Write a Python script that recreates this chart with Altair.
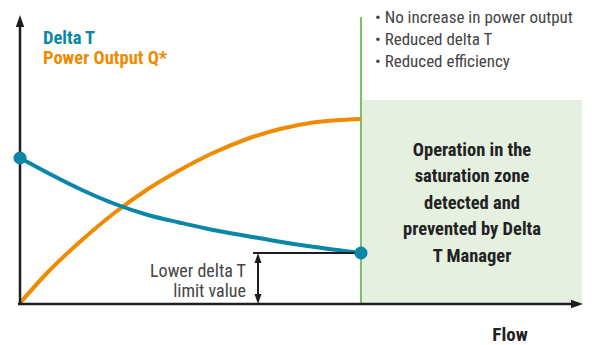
import altair as alt
import pandas as pd

# Curve data (flow units, value units)
flow_pts = [0, 28, 62, 95, 128, 160, 193, 227, 260, 293, 341]
delta_t = [146, 131, 114, 100, 89, 81.3, 74, 68, 62.3, 57.3, 51]
power_q = [1, 32, 64, 91.5, 115, 134, 151, 165, 175, 181.5, 185]

SAT_FLOW = 341       # saturation flow (green line)
ZONE_END = 562
ZONE_TOP = 204
Y_MAX = 289
X_MAX = 563
LOWER_LIMIT = 51
LIMIT_X = 238
LIMIT_LINE_START = 233

legend_labels = ["Delta T", "Power Output Q*"]
bullets = ["•  No increase in power output", "•  Reduced delta T", "•  Reduced efficiency"]
box_lines = ["Operation in the", "saturation zone", "detected and", "prevented by Delta", "T Manager"]
limit_lines = ["Lower delta T", "limit value"]

TEAL = "#0a86a6"
ORANGE = "#f08a00"
GREEN = "#7cc26a"
FILL = "#e5f0e0"
INK = "#1e1e1e"
FONT = "Liberation Sans Narrow, Roboto Condensed, Roboto"

xs = alt.Scale(domain=[-12, 572], nice=False, zero=False)
ys = alt.Scale(domain=[-41, 296], nice=False, zero=False)

def X(f="x"):
    return alt.X(f, type="quantitative", scale=xs, axis=None)

def Y(f="y"):
    return alt.Y(f, type="quantitative", scale=ys, axis=None)

curves = pd.DataFrame({"x": flow_pts, "dt": delta_t, "q": power_q})

zone = alt.Chart(pd.DataFrame({"x": [SAT_FLOW], "x2": [ZONE_END], "y": [0], "y2": [ZONE_TOP]})).mark_rect(
    color=FILL).encode(x=X(), x2="x2", y=Y(), y2="y2")

green = alt.Chart(pd.DataFrame({"x": [SAT_FLOW], "y": [0], "y2": [Y_MAX - 2]})).mark_rule(
    color=GREEN, strokeWidth=2).encode(x=X(), y=Y(), y2="y2")

yaxis = alt.Chart(pd.DataFrame({"x": [0], "y": [-1], "y2": [Y_MAX - 8]})).mark_rule(
    color=INK, strokeWidth=2.5).encode(x=X(), y=Y(), y2="y2")
xaxis = alt.Chart(pd.DataFrame({"x": [-2], "x2": [X_MAX - 8], "y": [0]})).mark_rule(
    color=INK, strokeWidth=2.5).encode(x=X(), x2="x2", y=Y())

up = "M0,-1L0.7,1L-0.7,1Z"
down = "M0,1L0.7,-1L-0.7,-1Z"
right = "M1,0L-1,0.7L-1,-0.7Z"

yhead = alt.Chart(pd.DataFrame({"x": [0], "y": [Y_MAX - 6]})).mark_point(
    shape=up, size=144, filled=True, color=INK, opacity=1).encode(x=X(), y=Y())
xhead = alt.Chart(pd.DataFrame({"x": [X_MAX - 6], "y": [0]})).mark_point(
    shape=right, size=144, filled=True, color=INK, opacity=1).encode(x=X(), y=Y())

limit_h = alt.Chart(pd.DataFrame({"x": [LIMIT_LINE_START], "x2": [SAT_FLOW], "y": [LOWER_LIMIT]})).mark_rule(
    color=INK, strokeWidth=2).encode(x=X(), x2="x2", y=Y())
limit_v = alt.Chart(pd.DataFrame({"x": [LIMIT_X], "y": [4], "y2": [LOWER_LIMIT - 4]})).mark_rule(
    color=INK, strokeWidth=2).encode(x=X(), y=Y(), y2="y2")
limit_top = alt.Chart(pd.DataFrame({"x": [LIMIT_X], "y": [LOWER_LIMIT - 5]})).mark_point(
    shape=up, size=100, filled=True, color=INK, opacity=1).encode(x=X(), y=Y())
limit_bot = alt.Chart(pd.DataFrame({"x": [LIMIT_X], "y": [5]})).mark_point(
    shape=down, size=100, filled=True, color=INK, opacity=1).encode(x=X(), y=Y())

q_line = alt.Chart(curves).mark_line(color=ORANGE, strokeWidth=4, interpolate="monotone").encode(x=X(), y=Y("q"))
dt_line = alt.Chart(curves).mark_line(color=TEAL, strokeWidth=4, interpolate="monotone").encode(x=X(), y=Y("dt"))
dt_ends = alt.Chart(pd.DataFrame({"x": [flow_pts[0], flow_pts[-1]], "y": [delta_t[0], delta_t[-1]]})).mark_circle(
    color=TEAL, size=170, opacity=1).encode(x=X(), y=Y())

leg = alt.Chart(pd.DataFrame({"x": [23, 23], "y": [260, 240], "t": legend_labels, "c": [TEAL, ORANGE]})).mark_text(
    align="left", baseline="alphabetic", font=FONT, fontSize=18.5, fontWeight="bold").encode(
    x=X(), y=Y(), text="t:N", color=alt.Color("c:N", scale=None))

bul = alt.Chart(pd.DataFrame({"x": [355] * 3, "y": [281, 259, 237], "t": bullets})).mark_text(
    align="left", baseline="alphabetic", font=FONT, fontSize=17, color="#444444").encode(
    x=X(), y=Y(), text="t:N")

box = alt.Chart(pd.DataFrame({"x": [452] * 5, "y": [148.5, 122, 95.5, 69, 42.5], "t": box_lines})).mark_text(
    align="center", baseline="alphabetic", font=FONT, fontSize=18.5, fontWeight="bold", color="#222222").encode(
    x=X(), y=Y(), text="t:N")

lim = alt.Chart(pd.DataFrame({"x": [226, 226], "y": [27, 7], "t": limit_lines})).mark_text(
    align="right", baseline="alphabetic", font=FONT, fontSize=18, color="#444444").encode(
    x=X(), y=Y(), text="t:N")

flow = alt.Chart(pd.DataFrame({"x": [490], "y": [-37], "t": ["Flow"]})).mark_text(
    align="center", baseline="alphabetic", font=FONT, fontSize=19, fontWeight="bold", color="#222222").encode(
    x=X(), y=Y(), text="t:N")

chart = alt.layer(
    zone, green, q_line, dt_line, limit_h, limit_v, limit_top, limit_bot,
    yaxis, xaxis, yhead, xhead, dt_ends, leg, bul, box, lim, flow
).properties(
    width=584, height=337, autosize=alt.AutoSizeParams(type="none"), padding=0
).configure_view(stroke=None)

chart.save("out.html", embed_options={"renderer": "svg", "actions": False})
